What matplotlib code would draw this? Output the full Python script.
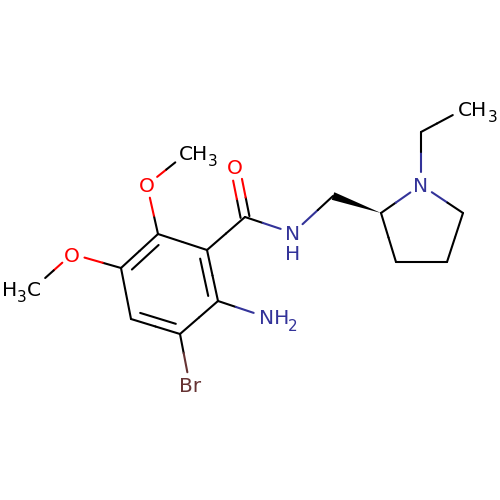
import numpy as np
import matplotlib
matplotlib.use('Agg')
import matplotlib.pyplot as plt

plt.rcParams['font.family'] = 'DejaVu Sans'

# atom positions (pixels)
atom_x = [158, 207, 218, 180, 131, 121, 147, 187, 72, 34, 190, 266, 245, 235, 293, 333, 381, 421, 463, 447, 396, 421, 466]
atom_y = [234, 250, 301, 334, 319, 268, 185, 153, 254, 288, 386, 317, 217, 167, 233, 196, 213, 185, 213, 262, 262, 132, 108]
atom_kind = ['C', 'C', 'C', 'C', 'C', 'C', 'O', 'Me', 'O', 'Me', 'Br', 'N', 'C', 'O', 'N', 'C', 'C', 'N', 'C', 'C', 'C', 'C', 'Me']

single_bonds = [(0, 1), (2, 3), (4, 5), (0, 6), (6, 7), (5, 8), (8, 9), (3, 10), (2, 11),
                (1, 12), (12, 14), (14, 15), (16, 17), (17, 18), (18, 19), (19, 20), (20, 16),
                (17, 21), (21, 22)]
ring_double_bonds = [(0, 5), (1, 2), (3, 4)]
carbonyl = (12, 13)
wedge_bond = (16, 15)
ring = [0, 1, 2, 3, 4, 5]

label_text = ['O', 'CH', 'O', 'H', 'C', 'Br', 'NH', 'O', 'N', 'H', 'N', 'CH']
label_x = [147, 179, 72, 2, 27, 190, 259, 235, 293, 293, 421, 458]
label_y = [185, 153, 254, 288, 288, 385, 317, 167, 232, 252, 184, 108]
label_kind = ['O', 'Me', 'O', 'Me', 'Me', 'Br', 'N', 'O', 'N', 'N', 'N', 'Me']
label_ha = ['center', 'left', 'center', 'left', 'left', 'center', 'left', 'center', 'center', 'center', 'center', 'left']

sub_text = ['3', '3', '2', '3']
sub_x = [213, 22, 293, 493]
sub_y = [160, 296, 325, 116]
sub_kind = ['Me', 'Me', 'N', 'Me']

colors = {'C': 'black', 'Me': 'black', 'O': '#ff0000', 'N': '#333399', 'Br': '#663333'}
gaps = {'C': 0, 'Me': 15, 'O': 13, 'N': 13, 'Br': 14}

fig = plt.figure(figsize=(5, 5), dpi=100)
ax = fig.add_axes([0, 0, 1, 1])
ax.set_xlim(0, 500)
ax.set_ylim(500, 0)
ax.axis('off')


def two_tone(p, q, c1, c2, gap1=0, gap2=0):
    # trim at the labels, then change colour half way along what is left
    d = (q - p) / np.linalg.norm(q - p)
    a = p + d * gap1
    b = q - d * gap2
    m = (a + b) / 2
    ax.plot([a[0], m[0]], [a[1], m[1]], color=c1, lw=1.5, solid_capstyle='round')
    ax.plot([m[0], b[0]], [m[1], b[1]], color=c2, lw=1.5, solid_capstyle='round')


def pos(i):
    return np.array([atom_x[i], atom_y[i]], dtype=float)


for i, j in single_bonds + ring_double_bonds:
    two_tone(pos(i), pos(j), colors[atom_kind[i]], colors[atom_kind[j]],
             gaps[atom_kind[i]], gaps[atom_kind[j]])

# inner lines of the aromatic ring
centre = np.mean([pos(i) for i in ring], axis=0)
for i, j in ring_double_bonds:
    p, q = pos(i), pos(j)
    d = (q - p) / np.linalg.norm(q - p)
    n = np.array([-d[1], d[0]])
    if np.dot(centre - p, n) < 0:
        n = -n
    ax.plot(*zip(p + n * 8.5 + d * 7, q + n * 8.5 - d * 7), color='black', lw=1.5, solid_capstyle='round')

# C=O, two lines either side of the bond axis
p, q = pos(carbonyl[0]), pos(carbonyl[1])
d = (q - p) / np.linalg.norm(q - p)
n = np.array([-d[1], d[0]])
for side in (-4.5, 4.5):
    two_tone(p + n * side, q + n * side, 'black', colors['O'], 0, gaps['O'])

# stereo wedge, point at the ring carbon
p, q = pos(wedge_bond[0]), pos(wedge_bond[1])
d = (q - p) / np.linalg.norm(q - p)
n = np.array([-d[1], d[0]])
ax.fill(*zip(p, q + n * 4, q - n * 4), color='black', lw=0)

for t, x, y, k, ha in zip(label_text, label_x, label_y, label_kind, label_ha):
    ax.text(x, y, t, color=colors[k], fontsize=14.5, ha=ha, va='center_baseline')
for t, x, y, k in zip(sub_text, sub_x, sub_y, sub_kind):
    ax.text(x, y, t, color=colors[k], fontsize=11, ha='center', va='center_baseline')

fig.savefig('out.png', dpi=100)
